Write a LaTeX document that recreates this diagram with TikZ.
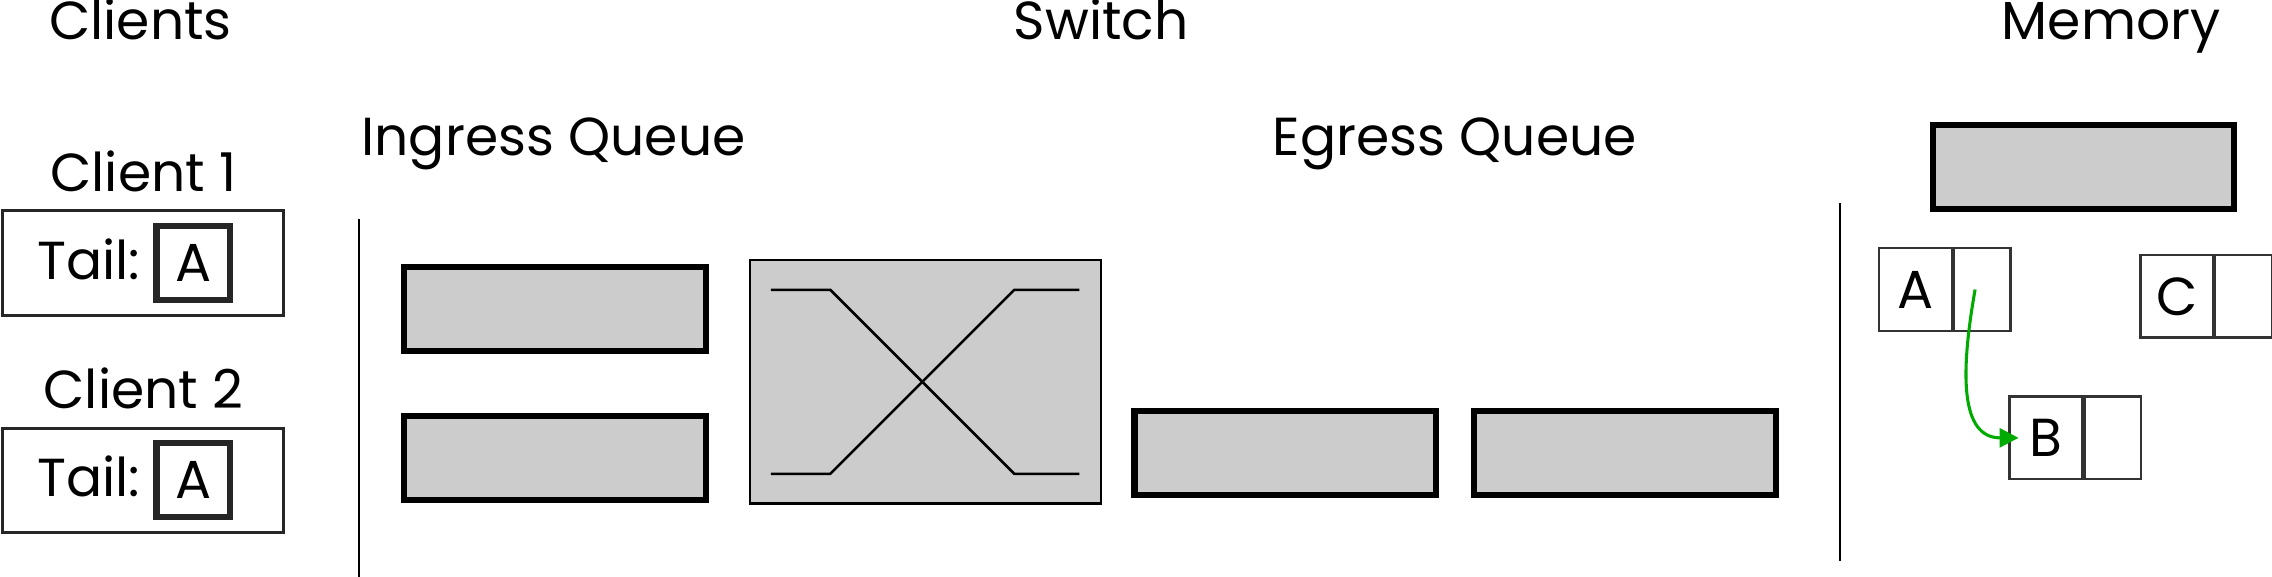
\documentclass[tikz,border=0pt]{standalone}
\usepackage{fontspec}
\setmainfont{Poppins}
\usetikzlibrary{positioning}
\usetikzlibrary{arrows.meta}
\definecolor{qgray}{RGB}{204,204,204}
\definecolor{linkgreen}{RGB}{0,170,0}

\begin{document}
\begin{tikzpicture}[x=0.01cm,y=-0.01cm,font=\fontsize{10.5}{12}\selectfont,
    lbl/.style={anchor=base,inner sep=0pt},
    queue/.style={draw,line width=1.2pt,fill=qgray,minimum width=2.08cm,minimum height=0.58cm,inner sep=0pt},
    client/.style={draw=black!85,line width=0.6pt,minimum width=1.94cm,minimum height=0.72cm,inner sep=0pt},
    tailbox/.style={draw=black!85,line width=1.2pt,minimum width=0.51cm,minimum height=0.51cm,inner sep=0pt},
    cell/.style={draw=black!80,line width=0.45pt,minimum width=0.5cm,minimum height=0.57cm,inner sep=0pt},
    ptr/.style={cell,minimum width=0.39cm}]
    \useasboundingbox (0,0) rectangle (1568,398.2);
    \node[lbl] (hclients) at (97,27) {Clients};
    \node[lbl] (hswitch) at (760,27) {Switch};
    \node[lbl] (hmemory) at (1457,27) {Memory};
    \node[lbl] (hingress) at (382,107) {Ingress Queue};
    \node[lbl] (hegress) at (1004,107) {Egress Queue};
    \node[lbl] (cname1) at (99,132) {Client 1};
    \node[lbl] (cname2) at (99,282) {Client 2};
    \node[client] (c1) at (98.5,181.5) {};
    \node[client] (c2) at (98.5,331.5) {};
    \node[lbl,anchor=base west] (tail1) at (25,193) {Tail:};
    \node[lbl,anchor=base west] (tail2) at (25,343) {Tail:};
    \node[tailbox] (t1) at (133.5,181.5) {A};
    \node[tailbox] (t2) at (133.5,331.5) {A};
    \draw[line width=0.45pt] (248,151) -- (248,398.2);
    \draw[line width=0.45pt] (1270,140) -- (1270,387);
    \node[queue] (in1) at (383,213) {};
    \node[queue] (in2) at (383,316) {};
    \node[draw,line width=0.45pt,fill=qgray,minimum width=2.42cm,minimum height=1.68cm] (sw) at (638.75,263.5) {};
    \draw[line width=0.5pt] (532,200) -- (573,200) -- (700,327) -- (745,327);
    \draw[line width=0.5pt] (532,327) -- (573,327) -- (700,200) -- (745,200);
    \node[queue] (eg1) at (887,312.5) {};
    \node[queue] (eg2) at (1121.5,312.5) {};
    \node[queue] (mem) at (1438,115.5) {};
    \node[cell] (memA) at (1322,199.8) {A};
    \node[ptr,right=0pt of memA] (memAp) {};
    \node[cell] (memC) at (1502.3,204.5) {C};
    \node[ptr,right=0pt of memC] (memCp) {};
    \node[cell] (memB) at (1411.9,302.2) {B};
    \node[ptr,right=0pt of memB] (memBp) {};
    \draw[linkgreen,line width=0.6pt,-{Triangle[length=0.13cm,width=0.13cm]}] ([xshift=-0.05cm]memAp.center) to[out=-100,in=180,out distance=0.6cm,in distance=0.4cm] ([xshift=0.07cm]memB.west);
\end{tikzpicture}
\end{document}
